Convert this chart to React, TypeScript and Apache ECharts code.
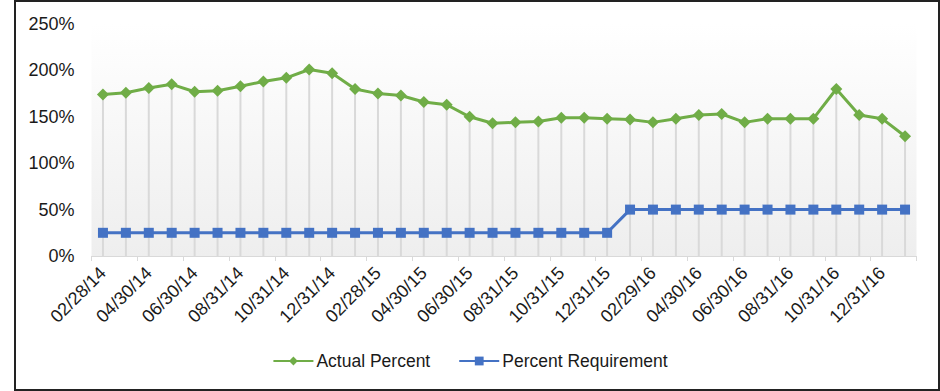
import React, { useEffect, useRef } from "react";
import * as echarts from "echarts";

const categories = [
  "02/28/14", "03/31/14", "04/30/14", "05/31/14", "06/30/14", "07/31/14",
  "08/31/14", "09/30/14", "10/31/14", "11/30/14", "12/31/14", "01/31/15",
  "02/28/15", "03/31/15", "04/30/15", "05/31/15", "06/30/15", "07/31/15",
  "08/31/15", "09/30/15", "10/31/15", "11/30/15", "12/31/15", "01/31/16",
  "02/29/16", "03/31/16", "04/30/16", "05/31/16", "06/30/16", "07/31/16",
  "08/31/16", "09/30/16", "10/31/16", "11/30/16", "12/31/16", "01/31/17",
];

const actualPercent = [
  174, 176, 181, 185, 177, 178, 183, 188, 192, 201, 197, 180,
  175, 173, 166, 163, 150, 143, 144, 145, 149, 149, 148, 147,
  144, 148, 152, 153, 144, 148, 148, 148, 180, 152, 148, 129,
];

const percentRequirement = [
  25, 25, 25, 25, 25, 25, 25, 25, 25, 25, 25, 25,
  25, 25, 25, 25, 25, 25, 25, 25, 25, 25, 25, 50,
  50, 50, 50, 50, 50, 50, 50, 50, 50, 50, 50, 50,
];

const yTicks = { min: 0, max: 250, interval: 50 };

export default function App() {
  const ref = useRef<HTMLDivElement>(null);

  useEffect(() => {
    document.body.style.margin = "0";
    if (!ref.current) return;
    const chart = echarts.init(ref.current, undefined, { renderer: "svg" });
    const font = "'Liberation Sans', Arial, sans-serif";
    chart.setOption({
      animation: false,
      textStyle: { fontFamily: font },
      grid: {
        left: 91.5,
        right: 23.5,
        top: 24,
        bottom: 135,
        show: true,
        borderWidth: 0,
        backgroundColor: new echarts.graphic.LinearGradient(0, 0, 0, 1, [
          { offset: 0, color: "#ffffff" },
          { offset: 1, color: "#eeeeee" },
        ]),
      },
      legend: {
        data: ["Actual Percent", "Percent Requirement"],
        bottom: 16,
        left: "center",
        itemWidth: 40,
        itemHeight: 11,
        itemGap: 28,
        textStyle: { fontSize: 17.5, color: "#1a1a1a", fontFamily: font, padding: [0, 0, 0, -2] },
      },
      xAxis: {
        type: "category",
        data: categories,
        boundaryGap: true,
        axisLine: { show: true, lineStyle: { color: "#d9d9d9", width: 1 } },
        axisTick: { show: true, inside: false, length: 5, lineStyle: { color: "#d9d9d9" } },
        splitLine: { show: false },
        axisLabel: {
          interval: 1,
          rotate: 45,
          fontSize: 18,
          color: "#1a1a1a",
          fontFamily: font,
          margin: 14,
        },
      },
      yAxis: {
        type: "value",
        min: yTicks.min,
        max: yTicks.max,
        interval: yTicks.interval,
        axisLine: { show: false },
        axisTick: { show: false },
        splitLine: { show: false },
        axisLabel: {
          formatter: "{value}%",
          fontSize: 18,
          color: "#1a1a1a",
          fontFamily: font,
          margin: 17,
        },
      },
      series: [
        {
          name: "dropLines",
          type: "bar",
          data: actualPercent,
          barWidth: 2,
          itemStyle: { color: "#d9d9d9" },
          silent: true,
          z: 1,
        },
        {
          name: "Actual Percent",
          type: "line",
          data: actualPercent,
          symbol: "diamond",
          symbolSize: 12,
          lineStyle: { color: "#70AD47", width: 3 },
          itemStyle: { color: "#70AD47" },
          z: 3,
        },
        {
          name: "Percent Requirement",
          type: "line",
          data: percentRequirement,
          symbol: "rect",
          symbolSize: 10,
          lineStyle: { color: "#4472C4", width: 3 },
          itemStyle: { color: "#4472C4" },
          z: 3,
        },
      ],
    });
    return () => chart.dispose();
  }, []);

  return (
    <div style={{ position: "relative", width: 940, height: 391, background: "#fff" }}>
      <div ref={ref} style={{ position: "absolute", left: 0, top: 0, width: 940, height: 391 }} />
      <div
        style={{
          position: "absolute",
          left: 14,
          top: 0,
          width: 922,
          height: 387,
          border: "2px solid #222",
          pointerEvents: "none",
        }}
      />
    </div>
  );
}
